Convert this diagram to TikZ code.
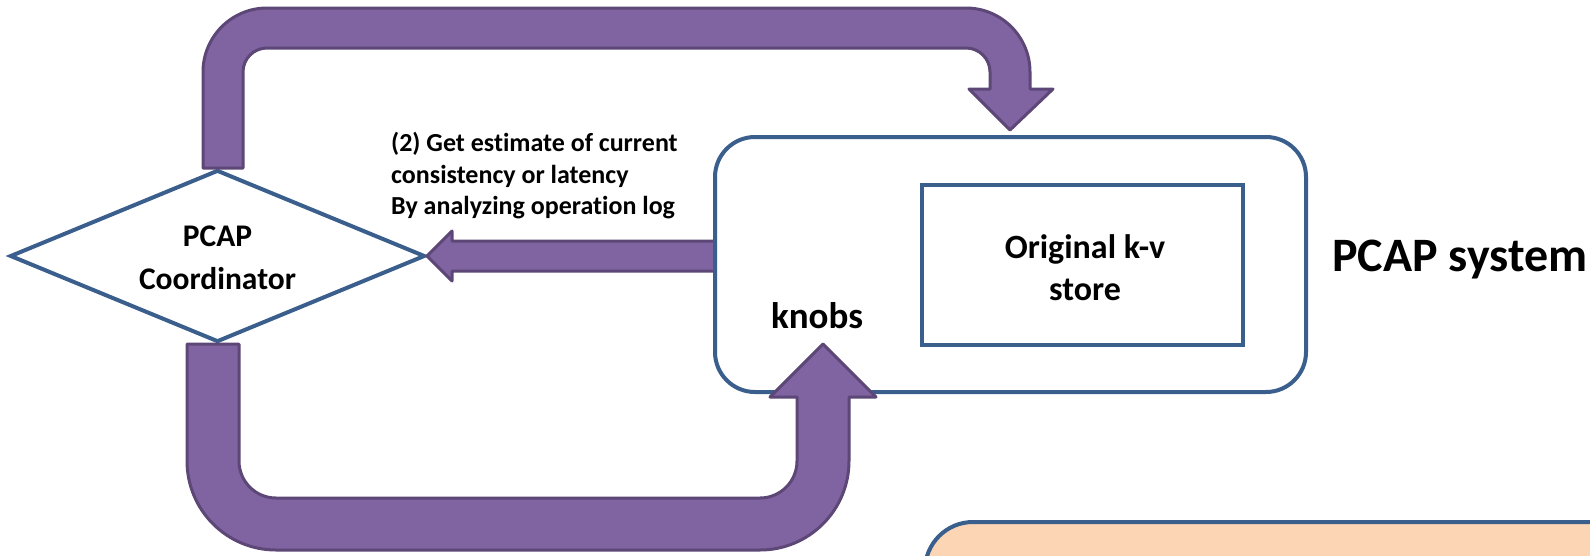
\documentclass[tikz,border=0pt]{standalone}
\usepackage{fontspec}
\setmainfont[Ligatures={NoCommon}]{Carlito}
\usetikzlibrary{shapes.geometric,calc}
\definecolor{arrowfill}{HTML}{8064A2}
\definecolor{arrowline}{HTML}{5C4776}
\definecolor{boxline}{HTML}{3A5F8D}
\definecolor{notefill}{HTML}{FCD5B5}

\begin{document}
\begin{tikzpicture}[x=1pt,y=-1pt,
  blockarrow/.style={fill=arrowfill, draw=arrowline, line width=3pt, line join=round},
  outline/.style={draw=boxline, line width=4pt},
  lbl/.style={font=\bfseries, inner sep=0pt, align=center}]
\clip (0,0) rectangle (1590,555);
\fill[white] (0,0) rectangle (1590,555);

% coordinator diamond
\node[diamond, outline, minimum width=415pt, minimum height=172pt, inner sep=0pt] (coord) at (217.5,256) {};
\node[lbl, font=\bfseries\fontsize{31.5}{43}\selectfont] (coordtext) at ([yshift=-2pt]coord.center) {PCAP\\Coordinator};

% feedback arrow from the store to the coordinator
\path[blockarrow] (716,241) -- (452,241) -- (452,231) -- (coord.east) -- (452,281) -- (452,271) -- (716,271);
\fill[arrowfill] (712,242.5) rectangle (716,269.5);

% PCAP system box with the original store inside
\node[outline, rounded corners=40pt, minimum width=591pt, minimum height=255pt, inner sep=0pt] (pcap) at (1010.5,264.5) {};
\node[outline, minimum width=321pt, minimum height=160pt, inner sep=0pt] (kv) at (1082.5,265) {};
\node[lbl, font=\bfseries\fontsize{34}{43}\selectfont, anchor=base] (kvtext1) at (1085,258) {Original k-v};
\node[lbl, font=\bfseries\fontsize{34}{43}\selectfont, anchor=base] (kvtext2) at (1085,300) {store};
\node[lbl, font=\bfseries\fontsize{37}{43}\selectfont, anchor=base] (knobs) at (817,328) {knobs};
\node[lbl, font=\bfseries\fontsize{48}{56}\selectfont, anchor=base west] (systext) at (1332,271) {PCAP system};

% estimate label
\node[font=\bfseries\fontsize{26}{31.5}\selectfont, align=left, inner sep=0pt, anchor=west] (note) at (391,176)
  {(2) Get estimate of current\\consistency or latency\\By analyzing operation log};

% upper arrow: coordinator to store
\draw[blockarrow] (203,168) -- (203,72) arc[start angle=180, end angle=270, radius=64]
  -- (966,8) arc[start angle=270, end angle=360, radius=64]
  -- (1030,89) -- (1053,89) -- (1010,130) -- (969,89) -- (990,89) -- (990,72)
  arc[start angle=0, end angle=-90, radius=24] -- (267,48)
  arc[start angle=270, end angle=180, radius=24] -- (243,168) -- cycle;

% lower arrow: coordinator to knobs
\draw[blockarrow] (187,344) -- (187,461) arc[start angle=180, end angle=90, radius=89]
  -- (760,550) arc[start angle=90, end angle=0, radius=89]
  -- (849,397) -- (876,397) -- (823,344) -- (770,397) -- (797,397) -- (797,461)
  arc[start angle=0, end angle=90, radius=37] -- (276,498)
  arc[start angle=90, end angle=180, radius=37] -- (239,344) -- cycle;

% note panel at the lower right
\node[outline, fill=notefill, rounded corners=48pt, minimum width=800pt, minimum height=200pt, inner sep=0pt, anchor=north west] (panel) at (923,520) {};
\end{tikzpicture}
\end{document}
